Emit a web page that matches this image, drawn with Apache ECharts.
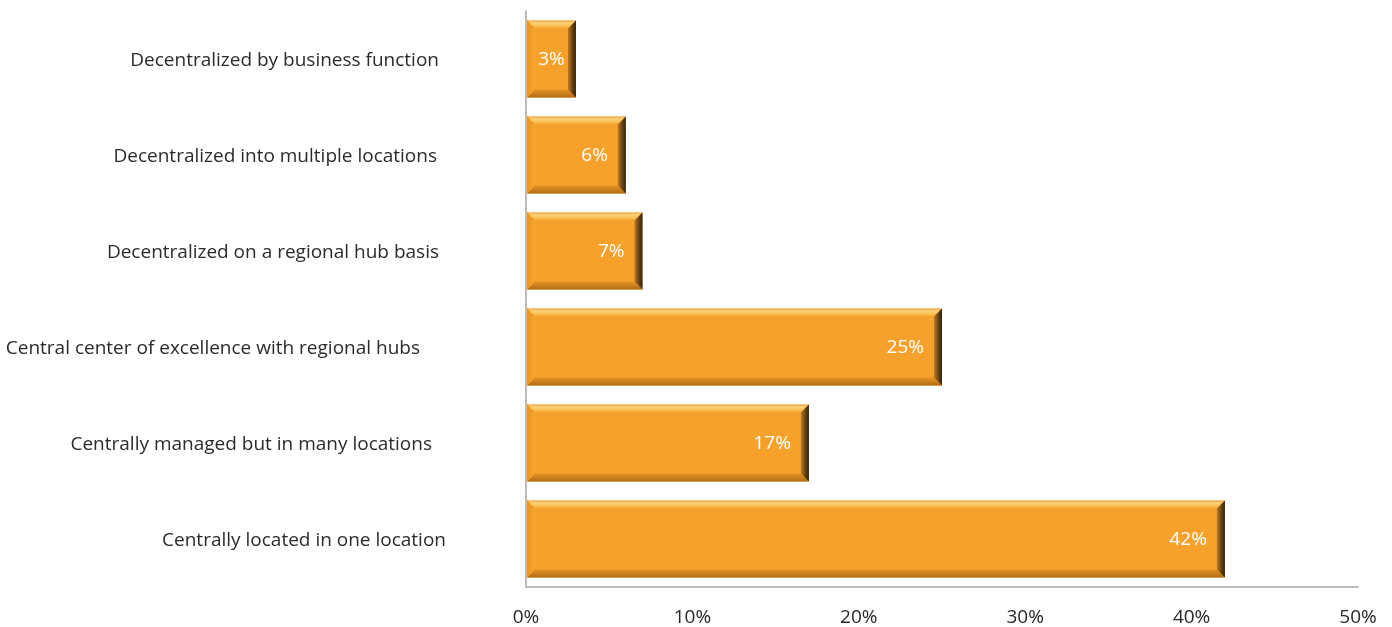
<!DOCTYPE html>
<html>
<head>
<meta charset="utf-8">
<script src="https://cdn.jsdelivr.net/npm/echarts@6/dist/echarts.min.js"></script>
<style>
  html, body { margin: 0; padding: 0; background: #ffffff; }
  #chart { width: 1392px; height: 627px; }
</style>
</head>
<body>
<div id="chart"></div>
<script>
// Categories listed top to bottom
const categories = [
  'Decentralized by business function',
  'Decentralized into multiple locations',
  'Decentralized on a regional hub basis',
  'Central center of excellence with regional hubs',
  'Centrally managed but in many locations',
  'Centrally located in one location'
];
// Share of respondents (%)
const shares = [3, 6, 7, 25, 17, 42];
const axisTicks = [0, 10, 20, 30, 40, 50];

// Extra right-hand padding for each category label (px)
const labelPad = [7, 9, 7, 26, 14, 0];

const chart = echarts.init(document.getElementById('chart'));

const BEVEL = 8;
const FONT = 'Open Sans';

function renderBar(params, api) {
  const val = api.value(0);
  const cat = api.value(1);
  const p0 = api.coord([0, cat]);
  const p1 = api.coord([val, cat]);
  const band = api.size([0, 1])[1];
  const h = band * 0.8;
  const x0 = p0[0] + 1, x1 = p1[0];
  const y0 = p0[1] - h / 2, y1 = p0[1] + h / 2;
  const b = Math.min(BEVEL, (x1 - x0) / 3);

  const lin = (x, y, x2, y2, stops) => new echarts.graphic.LinearGradient(x, y, x2, y2, stops);

  const label = shares[params.dataIndex] + '%';
  const w = x1 - x0;
  const textX = w < 70 ? (x0 + x1) / 2 : x1 - 18;
  const textAlign = w < 70 ? 'center' : 'right';

  return {
    type: 'group',
    children: [
      // face
      { type: 'rect', shape: { x: x0, y: y0, width: w, height: h },
        style: { fill: '#f6a12b' } },
      // top bevel
      { type: 'polygon', shape: { points: [[x0, y0], [x1, y0], [x1 - b, y0 + b], [x0 + b, y0 + b]] },
        style: { fill: lin(0, 0, 0, 1, [{ offset: 0, color: '#f0ae55' }, { offset: 0.35, color: '#fcd274' }, { offset: 1, color: '#f7a730' }]) } },
      // bottom bevel
      { type: 'polygon', shape: { points: [[x0, y1], [x1, y1], [x1 - b, y1 - b], [x0 + b, y1 - b]] },
        style: { fill: lin(0, 0, 0, 1, [{ offset: 0, color: '#e99523' }, { offset: 1, color: '#b26c16' }]) } },
      // left bevel
      { type: 'polygon', shape: { points: [[x0, y0], [x0 + b, y0 + b], [x0 + b, y1 - b], [x0, y1]] },
        style: { fill: lin(0, 0, 1, 0, [{ offset: 0, color: '#e89426' }, { offset: 1, color: '#f7a62f' }]) } },
      // right bevel
      { type: 'polygon', shape: { points: [[x1, y0], [x1 - b, y0 + b], [x1 - b, y1 - b], [x1, y1]] },
        style: { fill: lin(0, 0, 1, 0, [{ offset: 0, color: '#c07a1e' }, { offset: 0.55, color: '#6b4414' }, { offset: 1, color: '#342107' }]) } },
      // value label
      { type: 'text', style: {
          text: label, x: textX, y: p0[1] + 1, align: textAlign, verticalAlign: 'middle',
          fill: '#ffffff', fontSize: 19, fontFamily: FONT
        } }
    ]
  };
}

const richLabels = {};
labelPad.forEach((p, i) => {
  richLabels['c' + i] = { padding: [3, p, 0, 0], color: '#2b2b2b', fontSize: 19, fontFamily: FONT };
});

chart.setOption({
  backgroundColor: '#ffffff',
  animation: false,
  grid: { left: 526, right: 34, top: 11, bottom: 38 },
  xAxis: {
    type: 'value',
    min: axisTicks[0],
    max: axisTicks[axisTicks.length - 1],
    interval: 10,
    axisLine: { show: true, lineStyle: { color: '#a6a6a6', width: 1.5 } },
    axisTick: { show: false },
    splitLine: { show: false },
    axisLabel: {
      formatter: v => v + '%',
      color: '#262626', fontSize: 19, fontFamily: FONT, margin: 21
    }
  },
  yAxis: {
    type: 'category',
    data: categories,
    inverse: true,
    axisLine: { show: true, lineStyle: { color: '#a6a6a6', width: 1.5 } },
    axisTick: { show: false },
    axisLabel: {
      margin: 80,
      formatter: (v, i) => '{c' + i + '|' + v + '}',
      rich: richLabels
    }
  },
  series: [{
    type: 'custom',
    renderItem: renderBar,
    encode: { x: 0, y: 1 },
    data: shares.map((v, i) => [v, i])
  }]
});
</script>
</body>
</html>
